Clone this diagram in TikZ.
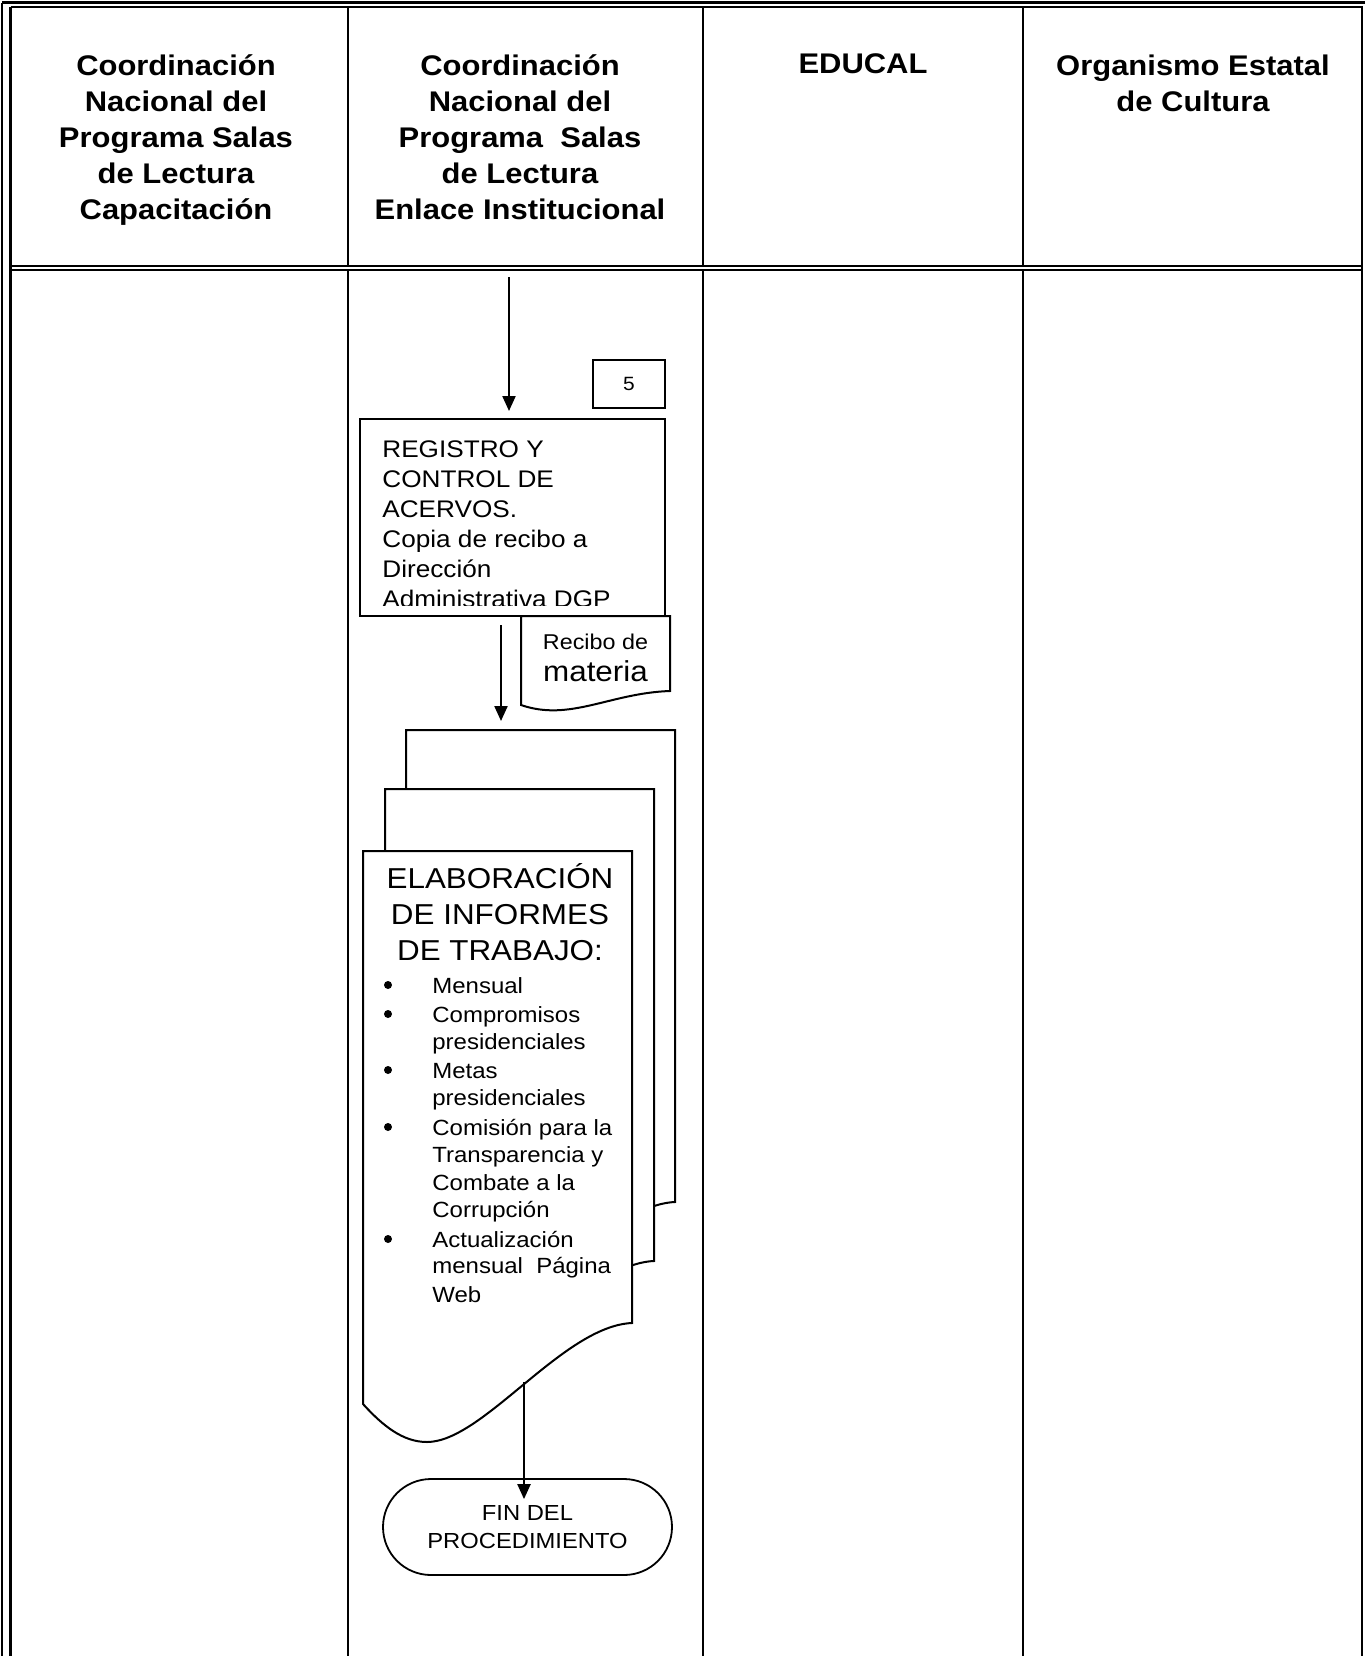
\documentclass[tikz,border=0pt]{standalone}
\usepackage{fontspec}
\setmainfont{Liberation Sans}[FakeStretch=1.09]
\usetikzlibrary{shapes.misc,arrows.meta}
\begin{document}
\begin{tikzpicture}[x=0.5pt,y=-0.5pt,
  tline/.style={line width=1.2pt},
  shp/.style={draw,line width=1pt,fill=white},
  arr/.style={line width=1.1pt,-{Triangle[length=7.5pt,width=6.5pt]}},
  hdr/.style={font=\bfseries\fontsize{14.2pt}{17pt}\selectfont,inner sep=0pt,anchor=base},
  regt/.style={font=\fontsize{12pt}{15pt}\selectfont,inner sep=0pt,anchor=base west},
  elab/.style={font=\fontsize{14.4pt}{18pt}\selectfont,inner sep=0pt,anchor=base},
  blt/.style={font=\fontsize{11pt}{13.5pt}\selectfont,inner sep=0pt,anchor=base west},
  dot/.style={circle,fill,inner sep=0pt,minimum size=4pt},
  stackdoc/.pic={\draw[shp] (0,0) -- (269,0) -- (269,472)
      .. controls (200,475) and (120,591) .. (64,591)
      .. controls (40,591) and (20,575) .. (0,553) -- cycle;}
]
\useasboundingbox (0,0) rectangle (1365,1656);
% table frame
\draw[tline] (2.2,2.5) -- (1366,2.5);
\draw[tline] (2.2,2.5) -- (2.2,1657);
\draw[tline] (10.5,7) -- (1362,7) -- (1362,1657);
\draw[tline] (10.5,7) -- (10.5,1657);
\draw[tline] (10.5,266) -- (1362,266);
\draw[tline] (10.5,270) -- (1362,270);
\foreach \x in {348,703,1023} {
  \draw[tline] (\x,7) -- (\x,266);
  \draw[tline] (\x,270) -- (\x,1657);
}
% headers
\node[hdr] (h1a) at (176,75) {Coordinación};
\node[hdr] (h1b) at (176,111) {Nacional del};
\node[hdr] (h1c) at (176,147) {Programa Salas};
\node[hdr] (h1d) at (176,183) {de Lectura};
\node[hdr] (h1e) at (176,219) {Capacitación};
\node[hdr] (h2a) at (520,75) {Coordinación};
\node[hdr] (h2b) at (520,111) {Nacional del};
\node[hdr] (h2c) at (520,147) {Programa~ Salas};
\node[hdr] (h2d) at (520,183) {de Lectura};
\node[hdr] (h2e) at (520,219) {Enlace Institucional};
\node[hdr] (h3a) at (863,73) {EDUCAL};
\node[hdr] (h4a) at (1193,75) {Organismo Estatal};
\node[hdr] (h4b) at (1193,111) {de Cultura};
% step 5 box
\node[draw,line width=1pt,minimum width=36pt,minimum height=24pt,inner sep=0pt,
      font=\fontsize{9.6pt}{11pt}\selectfont] (n5) at (629,384) {5};
% registro box
\node[shp,minimum width=152.5pt,minimum height=98.5pt,inner sep=0pt] (reg) at (512.5,517.5) {};
\coordinate (a0) at (509,277);
\draw[arr,shorten >=3.5pt] (a0) -- (a0 |- reg.north);
\begin{scope}
\clip (361,420) rectangle (664,605);
\node[regt] (r1) at (382,457) {REGISTRO Y};
\node[regt] (r2) at (382,487) {CONTROL DE};
\node[regt] (r3) at (382,517) {ACERVOS.};
\node[regt] (r4) at (382,547) {Copia de recibo a};
\node[regt] (r5) at (382,577) {Dirección};
\node[regt] (r6) at (382,607) {Administrativa DGP};
\end{scope}
% recibo document
\draw[shp] (521,616) -- (670,616) -- (670,691)
   .. controls (610,693) and (570,722) .. (521,705) -- cycle;
\node[font=\fontsize{10.7pt}{13pt}\selectfont,inner sep=0pt,anchor=base] (rc1) at (595.5,649) {Recibo de};
\node[font=\fontsize{14.4pt}{17pt}\selectfont,inner sep=0pt,anchor=base] (rc2) at (595.5,681) {materia};
\coordinate (a1) at (501,625);
\coordinate (a2) at (501,721);
\draw[arr] (a1) -- (a2);
% stacked documents
\pic at (406,730) {stackdoc};
\pic at (385,789) {stackdoc};
\pic at (363,851) {stackdoc};
\node[elab] (e1) at (500,888) {ELABORACIÓN};
\node[elab] (e2) at (500,924) {DE INFORMES};
\node[elab] (e3) at (500,960) {DE TRABAJO:};
\node[dot] (d1) at (388,985) {};
\node[blt] (t1) at (432,993) {Mensual};
\node[dot] (d2) at (388,1014) {};
\node[blt] (t2) at (432,1022) {Compromisos};
\node[blt] (t3) at (432,1049) {presidenciales};
\node[dot] (d3) at (388,1070) {};
\node[blt] (t4) at (432,1078) {Metas};
\node[blt] (t5) at (432,1105) {presidenciales};
\node[dot] (d4) at (388,1127) {};
\node[blt] (t6) at (432,1135) {Comisión para la};
\node[blt] (t7) at (432,1162) {Transparencia y};
\node[blt] (t8) at (432,1190) {Combate a la};
\node[blt] (t9) at (432,1217) {Corrupción};
\node[dot] (d5) at (388,1239) {};
\node[blt] (t10) at (432,1247) {Actualización};
\node[blt] (t11) at (432,1273) {mensual~ Página};
\node[blt] (t12) at (432,1302) {Web};
% end terminal
\node[draw,line width=0.9pt,rounded rectangle,minimum width=144.5pt,minimum height=48pt,
      inner sep=0pt,align=center,font=\fontsize{10.9pt}{14pt}\selectfont] (fin) at (527.5,1527)
      {FIN DEL\\PROCEDIMIENTO};
\coordinate (c0) at (524,1382);
\draw[arr,shorten >=-10.5pt] (c0) -- (c0 |- fin.north);
\end{tikzpicture}
\end{document}
